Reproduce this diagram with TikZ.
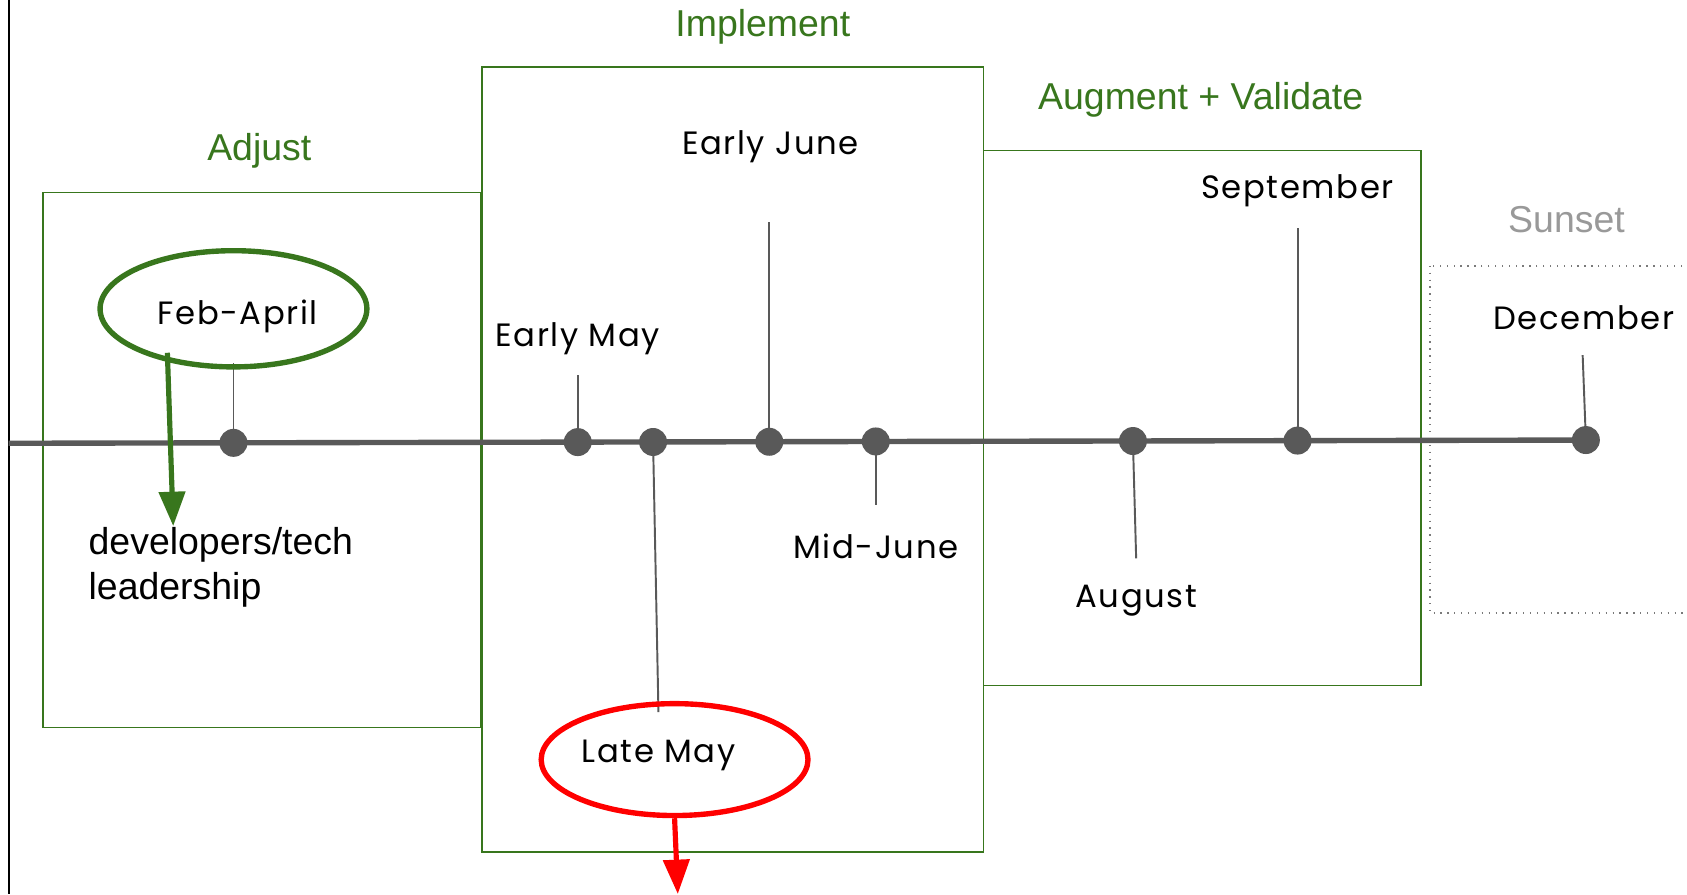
\documentclass[tikz,border=0pt]{standalone}
\usepackage{fontspec}
\setmainfont{Liberation Sans}
\newfontfamily\datefont[LetterSpace=5]{Poppins}
\usetikzlibrary{arrows.meta, shapes.geometric}

\definecolor{phaseGreen}{HTML}{38761D}
\definecolor{lineGray}{HTML}{595959}
\definecolor{sunsetGray}{HTML}{999999}

\begin{document}
\begin{tikzpicture}[x=0.5pt, y=-0.5pt,
        timeDot/.style={circle, fill=lineGray, inner sep=0pt, minimum size=13pt},
        tickLine/.style={draw=lineGray, line width=0.9pt},
        phaseBox/.style={draw=phaseGreen, line width=0.75pt},
        phaseTitle/.style={text=phaseGreen, font=\fontsize{17.4}{21}\selectfont, inner sep=0pt},
        dateText/.style={font=\datefont\fontsize{15}{18}\selectfont, inner sep=0pt},
        oval/.style={ellipse, line width=2.5pt, inner sep=0pt}]
            \useasboundingbox (0,0) rectangle (1568,831);
            \clip (0,0) rectangle (1568,831);

            % frame edge on the left
            \draw[black, line width=1pt] (8,0) -- (8,831);

            % phase boxes
            \draw[phaseBox] (40,179) rectangle (447,676);
            \draw[phaseBox] (448,62) rectangle (914,792);
            \draw[phaseBox] (914,140) rectangle (1321,637);
            \draw[sunsetGray!80!black, line width=0.8pt, dash pattern=on 0.6pt off 2.6pt]
                (1329,247) rectangle (1600,570);

            \node[phaseTitle] (adjust) at (241,140) {Adjust};
            \node[phaseTitle] (implement) at (709,25) {Implement};
            \node[phaseTitle] (augment) at (1116,93) {Augment + Validate};
            \node[phaseTitle, text=sunsetGray] (sunset) at (1456,204) {Sunset};

            % timeline and its points
            \coordinate (tlStart) at (8,412);
            \node[timeDot] (feb) at (217,411.6) {};
            \node[timeDot] (earlyMay) at (537,410.9) {};
            \node[timeDot] (lateMay) at (607,410.8) {};
            \node[timeDot] (earlyJune) at (715,410.6) {};
            \node[timeDot] (midJune) at (814,410.3) {};
            \node[timeDot] (aug) at (1053,409.9) {};
            \node[timeDot] (sep) at (1206,409.5) {};
            \node[timeDot] (dec) at (1474,409) {};
            \draw[lineGray, line width=2.5pt] (tlStart) -- (dec.center);

            % ticks
            \draw[tickLine] (feb.center) -- +(0,-74);
            \draw[tickLine] (earlyMay.center) -- +(0,-62);
            \draw[tickLine] (lateMay.center) -- +(5,251);
            \draw[tickLine] (earlyJune.center) -- +(0,-204);
            \draw[tickLine] (midJune.center) -- +(0,59);
            \draw[tickLine] (aug.center) -- +(3,109);
            \draw[tickLine] (sep.center) -- +(0,-198);
            \draw[tickLine] (dec.center) -- +(-3,-79);

            % date labels
            \node[oval, draw=phaseGreen, minimum width=124pt, minimum height=54pt] (febOval) at (217,287) {};
            \node[dateText] (febLbl) at (221,294) {Feb-April};
            \node[dateText] (earlyMayLbl) at (537,315) {Early May};
            \node[dateText] (earlyJuneLbl) at (716,136) {Early June};
            \node[oval, draw=red, minimum width=124pt, minimum height=52pt] (lateOval) at (627,706) {};
            \node[dateText] (lateMayLbl) at (612,702) {Late May};
            \node[dateText] (midJuneLbl) at (814,508) {Mid-June};
            \node[dateText] (augLbl) at (1056,558) {August};
            \node[dateText] (sepLbl) at (1206,177) {September};
            \node[dateText] (decLbl) at (1472,295) {December};

            \node[font=\fontsize{17.4}{21}\selectfont, align=left, anchor=west, inner sep=0pt]
                (devs) at (82,527) {developers/tech\\leadership};

            % arrows out of the ovals
            \coordinate (devsTip) at (161,489);
            \coordinate (lateTip) at (630,831);
            \draw[phaseGreen, line width=2.4pt, -{Triangle[length=16pt, width=12pt]}]
                ([shift={(-2,-9)}]febOval.220) -- (devsTip);
            \draw[red, line width=2.4pt, -{Triangle[length=16pt, width=12pt]}]
                (lateOval.south) -- (lateTip);
        \end{tikzpicture}
\end{document}
